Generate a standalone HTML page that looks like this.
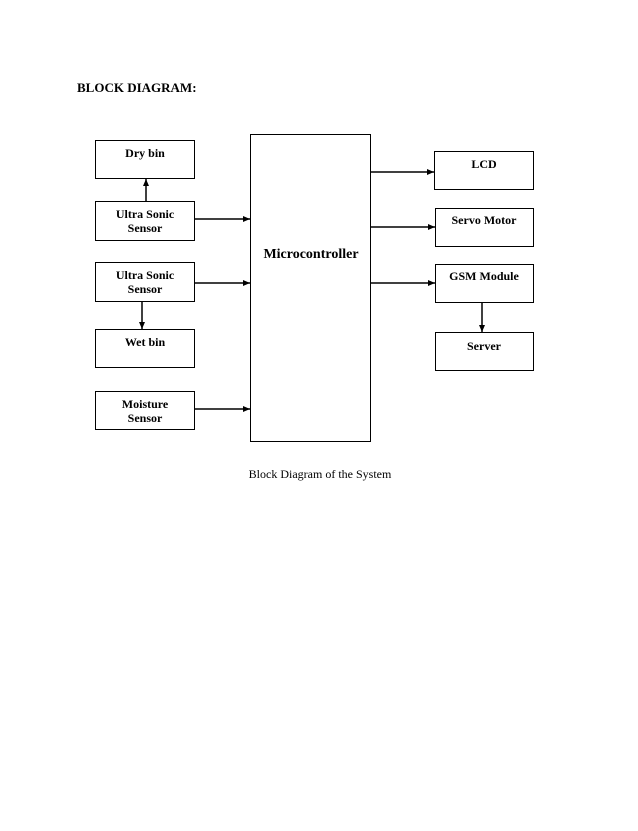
<!DOCTYPE html>
<html><head><meta charset="utf-8"><style>
body{margin:0;background:#fff;}
svg text{font-family:"Liberation Serif",serif;fill:#000;}
</style></head><body>
<svg width="638" height="826" xmlns="http://www.w3.org/2000/svg">
<defs><marker id="a" markerWidth="8" markerHeight="8" refX="7" refY="4" orient="auto" markerUnits="userSpaceOnUse"><path d="M0,1 L7,4 L0,7 Z" fill="#000"/></marker></defs>
<text x="77" y="92" font-size="13" font-weight="bold">BLOCK DIAGRAM:</text>
<g fill="none" stroke="#000" stroke-width="1">
<rect x="95.5" y="140.5" width="99" height="38"/>
<rect x="95.5" y="201.5" width="99" height="39"/>
<rect x="95.5" y="262.5" width="99" height="39"/>
<rect x="95.5" y="329.5" width="99" height="38"/>
<rect x="95.5" y="391.5" width="99" height="38"/>
<rect x="250.5" y="134.5" width="120" height="307"/>
<rect x="434.5" y="151.5" width="99" height="38"/>
<rect x="435.5" y="208.5" width="98" height="38"/>
<rect x="435.5" y="264.5" width="98" height="38"/>
<rect x="435.5" y="332.5" width="98" height="38"/>
</g>
<g stroke="#000" stroke-width="1.5" marker-end="url(#a)">
<line x1="146" y1="201" x2="146" y2="179"/>
<line x1="142" y1="301" x2="142" y2="329"/>
<line x1="194" y1="219" x2="250" y2="219"/>
<line x1="194" y1="283" x2="250" y2="283"/>
<line x1="194" y1="409" x2="250" y2="409"/>
<line x1="370" y1="172" x2="434" y2="172"/>
<line x1="371" y1="227" x2="435" y2="227"/>
<line x1="370" y1="283" x2="435" y2="283"/>
<line x1="482" y1="302" x2="482" y2="332"/>
</g>
<g font-size="12" font-weight="bold" text-anchor="middle">
<text x="145" y="157">Dry bin</text>
<text x="145" y="218">Ultra Sonic</text>
<text x="145" y="232">Sensor</text>
<text x="145" y="279">Ultra Sonic</text>
<text x="145" y="293">Sensor</text>
<text x="145" y="346">Wet bin</text>
<text x="145" y="408">Moisture</text>
<text x="145" y="422">Sensor</text>
<text x="311" y="258" font-size="14">Microcontroller</text>
<text x="484" y="168">LCD</text>
<text x="484" y="224">Servo Motor</text>
<text x="484" y="280">GSM Module</text>
<text x="484" y="350">Server</text>
</g>
<text x="320" y="478" font-size="12" text-anchor="middle">Block Diagram of the System</text>
</svg>
</body></html>
